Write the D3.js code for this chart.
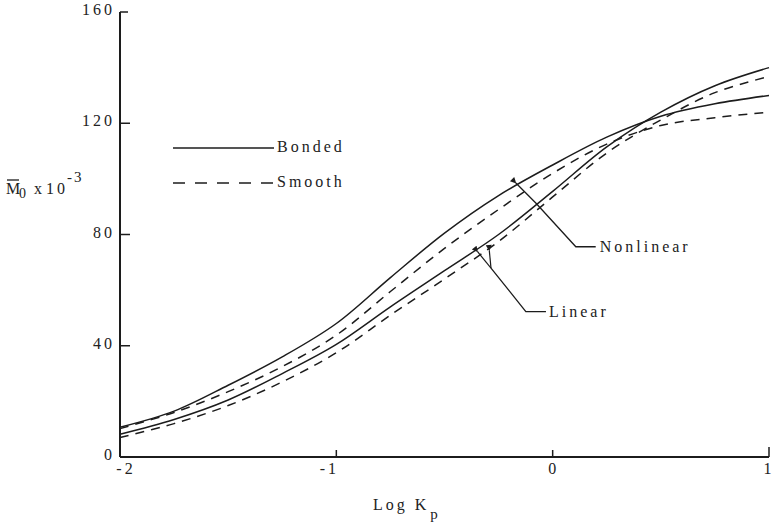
<!DOCTYPE html>
<html>
<head>
<meta charset="utf-8">
<script src="https://cdn.jsdelivr.net/npm/d3@7"></script>
<style>
  html, body { margin: 0; padding: 0; background: #fff; }
  svg { display: block; }
  text { font-family: "Liberation Serif", "DejaVu Serif", serif; fill: #222; }
</style>
</head>
<body>
<svg id="chart" width="773" height="528"></svg>
<script>
// Log Kp values at which the moment curves were sampled
const logKp = [-2, -1.75, -1.5, -1.25, -1, -0.75, -0.5, -0.25, 0, 0.25, 0.5, 0.75, 1];

// M0 x 10^-3 for each case
const nonlinearBonded = [10.7, 16.5, 25.8, 36, 48, 64.5, 80.5, 94, 105, 115, 122.5, 127, 130];
const nonlinearSmooth = [10.2, 16, 23.5, 32.5, 43.8, 59.5, 75, 89, 102, 112.5, 119.2, 122, 124];
const linearBonded    = [8.2, 13.5, 20.5, 30, 40.5, 54, 67, 80, 95.5, 111.5, 124, 133.5, 140];
const linearSmooth    = [7, 12, 18.5, 27, 37.5, 51, 64, 77.5, 93.5, 109.3, 121.2, 131, 136.8];

// axis ticks
const xTicks = [-2, -1, 0, 1];
const yTicks = [0, 40, 80, 120, 160];

// callout leaders, in data units [logKp, M0]
const nonlinearLeader = [[-0.17, 98.5], [-0.078, 91.3], [0.107, 75.6], [0.199, 75.6]];
const linearLeader    = [[-0.285, 67.9], [-0.124, 52.3], [-0.031, 52.3]];
const linearArrowTips = [[-0.347, 73.8], [-0.293, 74.3]];

const svg = d3.select("#chart");
const ink = "#1c1c1c";
const fontSize = 16;
const spacing = 3;

const x = d3.scaleLinear().domain([-2, 1]).range([120, 769]);
const y = d3.scaleLinear().domain([0, 160]).range([457, 12]);

// arrowhead marker
svg.append("defs").append("marker")
  .attr("id", "head")
  .attr("viewBox", "0 0 10 10")
  .attr("refX", 1).attr("refY", 5)
  .attr("markerWidth", 9).attr("markerHeight", 6)
  .attr("markerUnits", "userSpaceOnUse")
  .attr("orient", "auto-start-reverse")
  .append("path").attr("d", "M0,5 L10,0 L10,10 Z").attr("fill", ink);

// curves
const line = d3.line()
  .x((d, i) => x(logKp[i]))
  .y(d => y(d))
  .curve(d3.curveCatmullRom.alpha(0.5));

const series = [
  { values: nonlinearBonded, dash: null },
  { values: linearBonded,    dash: null },
  { values: nonlinearSmooth, dash: "9,7" },
  { values: linearSmooth,    dash: "9,7" }
];
svg.append("g").selectAll("path").data(series).join("path")
  .attr("d", d => line(d.values))
  .attr("fill", "none")
  .attr("stroke", ink)
  .attr("stroke-width", 1.5)
  .attr("stroke-dasharray", d => d.dash);

// axes
const axisG = svg.append("g").attr("stroke", ink);
axisG.append("line")
  .attr("x1", x(-2)).attr("x2", x(-2))
  .attr("y1", y(160)).attr("y2", y(0))
  .attr("stroke-width", 2);
axisG.append("line")
  .attr("x1", x(-2)).attr("x2", x(1))
  .attr("y1", y(0)).attr("y2", y(0))
  .attr("stroke-width", 2);

// y ticks (pointing inward)
axisG.selectAll(".yt").data(yTicks.filter(v => v > 0)).join("line")
  .attr("x1", x(-2)).attr("x2", d => x(-2) + (d === 160 ? 8 : 10))
  .attr("y1", d => y(d)).attr("y2", d => y(d))
  .attr("stroke-width", 1.5);

// x ticks (pointing upward)
axisG.selectAll(".xt").data(xTicks.filter(v => v > -2)).join("line")
  .attr("x1", d => x(d)).attr("x2", d => x(d))
  .attr("y1", y(0)).attr("y2", d => y(0) - (d === 1 ? 10 : 7))
  .attr("stroke-width", 1.5);

// y tick labels
svg.append("g").selectAll("text").data(yTicks).join("text")
  .attr("x", x(-2) - 5)
  .attr("y", d => y(d) + 3)
  .attr("text-anchor", "end")
  .attr("font-size", fontSize)
  .attr("letter-spacing", spacing)
  .text(d => d);

// x tick labels
const xShift = { "-2": 6, "-1": -7, "0": 1, "1": 0 };
svg.append("g").selectAll("text").data(xTicks).join("text")
  .attr("x", d => x(d) + xShift[d])
  .attr("y", y(0) + 17)
  .attr("text-anchor", "middle")
  .attr("font-size", fontSize)
  .attr("letter-spacing", spacing)
  .text(d => d < 0 ? "-" + Math.abs(d) : d);

// axis titles
const xt = svg.append("text").attr("x", 373).attr("y", 510)
  .attr("font-size", fontSize).attr("letter-spacing", spacing);
xt.append("tspan").text("Log K");
xt.append("tspan").attr("dy", 9).attr("dx", 1).attr("font-size", 15).text("p");

const yt = svg.append("text").attr("y", 194).attr("font-size", fontSize);
yt.append("tspan").attr("x", 6).text("M");
yt.append("tspan").attr("x", 19).attr("dy", 4).attr("font-size", 14).text("0");
yt.append("tspan").attr("x", 34).attr("dy", -4).text("x");
yt.append("tspan").attr("x", 46).attr("letter-spacing", spacing).text("10");
yt.append("tspan").attr("x", 67).attr("dy", -12).attr("font-size", 15).attr("letter-spacing", 2).text("-3");
svg.append("line")
  .attr("x1", 7).attr("x2", 19).attr("y1", 180).attr("y2", 180)
  .attr("stroke", ink).attr("stroke-width", 1.3);

// legend
const legend = [
  { label: "Bonded", dash: null,    yPos: 148 },
  { label: "Smooth", dash: "12,10", yPos: 183 }
];
const lg = svg.append("g").selectAll("g").data(legend).join("g");
lg.append("line")
  .attr("x1", 173).attr("x2", 274)
  .attr("y1", d => d.yPos).attr("y2", d => d.yPos)
  .attr("stroke", ink).attr("stroke-width", 1.5)
  .attr("stroke-dasharray", d => d.dash);
lg.append("text")
  .attr("x", 277).attr("y", d => d.yPos + 4)
  .attr("font-size", fontSize)
  .attr("letter-spacing", spacing)
  .text(d => d.label);

// callouts
const leader = d3.line().x(d => x(d[0])).y(d => y(d[1]));
svg.append("path")
  .attr("d", leader(nonlinearLeader))
  .attr("fill", "none").attr("stroke", ink).attr("stroke-width", 1.3)
  .attr("marker-start", "url(#head)");
svg.append("path")
  .attr("d", leader(linearLeader))
  .attr("fill", "none").attr("stroke", ink).attr("stroke-width", 1.3);
svg.append("g").selectAll("path").data(linearArrowTips).join("path")
  .attr("d", d => leader([d, linearLeader[0]]))
  .attr("fill", "none").attr("stroke", ink).attr("stroke-width", 1.2)
  .attr("marker-start", "url(#head)");

svg.append("text")
  .attr("x", x(nonlinearLeader[3][0]) + 4).attr("y", y(nonlinearLeader[3][1]) + 5)
  .attr("font-size", fontSize).attr("letter-spacing", spacing)
  .text("Nonlinear");
svg.append("text")
  .attr("x", x(linearLeader[2][0]) + 3).attr("y", y(linearLeader[2][1]) + 5)
  .attr("font-size", fontSize).attr("letter-spacing", spacing)
  .text("Linear");
</script>
</body>
</html>
